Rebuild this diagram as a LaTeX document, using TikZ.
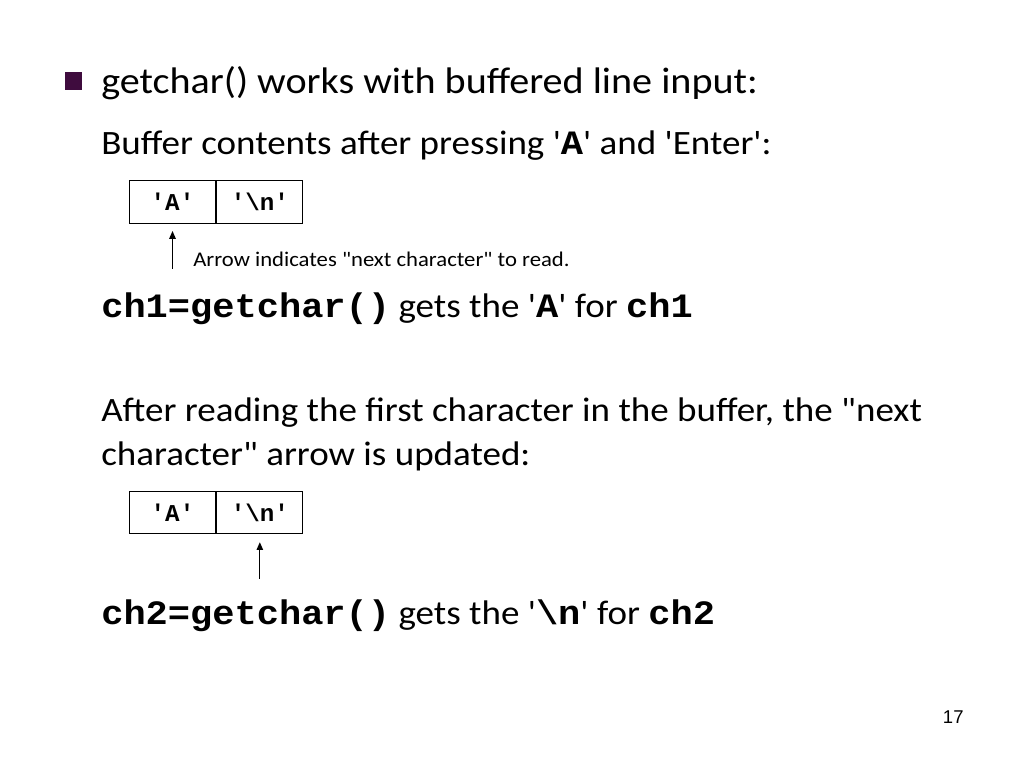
\documentclass[tikz,border=0pt]{standalone}
\usepackage{fontspec}
\setmainfont{Carlito}
\setmonofont{Liberation Mono}
\newfontfamily\numfont{Liberation Sans}
\usetikzlibrary{positioning,arrows.meta}
\newcommand{\sglq}{\textquotesingle}
\newcommand{\dblq}{\textquotedbl}
\newcommand{\cb}[1]{\texttt{\textbf{#1}}}
\newcommand{\wide}[1]{\scalebox{1.085}[1]{#1}}
\definecolor{bulletpurple}{RGB}{63,12,62}

\begin{document}
\begin{tikzpicture}[x=0.703125pt, y=-0.703125pt]

% Set the overall layout of the slide
\useasboundingbox (0,0) rectangle (1024,768);
\fill[white] (0,0) rectangle (1024,768);

% Define styles for texts, cells and arrows
\tikzstyle{slidetext} = [anchor=base west, inner sep=0pt, font=\fontsize{24}{29}\selectfont]
\tikzstyle{headtext} = [slidetext, font=\fontsize{26}{31}\selectfont]
\tikzstyle{remark} = [anchor=base west, inner sep=0pt, font=\fontsize{14.7}{17}\selectfont]
\tikzstyle{bulletbox} = [rectangle, fill=bulletpurple, minimum size=12pt, inner sep=0pt]
\tikzstyle{cell} = [rectangle, draw=black, line width=0.9pt, minimum width=60.5pt, minimum height=30pt, inner sep=0pt, font=\fontsize{17}{20}\selectfont\ttfamily\bfseries]
\tikzstyle{ptr} = [draw=black, line width=0.9pt, -{Triangle[width=4.5pt,length=5.5pt]}]

%Texto del primer punto
\node[bulletbox] (bullet) at (73.5,81) {};
\node[headtext] (intro) at (101,93.5) {\wide{getchar() works with buffered line input:}};
\node[slidetext] (buf) at (101,154.5) {\wide{Buffer contents after pressing \sglq\cb{A}\sglq{} and \sglq Enter\sglq:}};

% Buffer before reading
\node[cell] (a1) at (172.5,202) {\sglq A\sglq};
\node[cell, right=0pt of a1] (n1) {\sglq\textbackslash n\sglq};
\draw[ptr] ([yshift=-31.6pt]a1.south) coordinate (p1) -- ([yshift=-4.9pt]a1.south);
\node[remark] (hint) at (193,267) {\wide{Arrow indicates \dblq next character\dblq{} to read.}};

\node[slidetext] (get1) at (101,318) {\wide{\cb{ch1=getchar()} gets the \sglq\cb{A}\sglq{} for \cb{ch1}}};
\node[slidetext] (after) at (101,421.7) {\wide{After reading the first character in the buffer, the \dblq next}};
\node[slidetext] (after2) at (101,465) {\wide{character\dblq{} arrow is updated:}};

% Buffer after reading
\node[cell] (a2) at (172.5,512.5) {\sglq A\sglq};
\node[cell, right=0pt of a2] (n2) {\sglq\textbackslash n\sglq};
\draw[ptr] ([yshift=-31pt]n2.south) coordinate (p2) -- ([yshift=-5.4pt]n2.south);

\node[slidetext] (get2) at (101,624) {\wide{\cb{ch2=getchar()} gets the \sglq\cb{\textbackslash n}\sglq{} for \cb{ch2}}};

% Slide number
\node[anchor=base west, inner sep=0pt, font=\fontsize{13}{15}\selectfont\numfont] (page) at (942.7,723) {17};
\end{tikzpicture}
\end{document}
